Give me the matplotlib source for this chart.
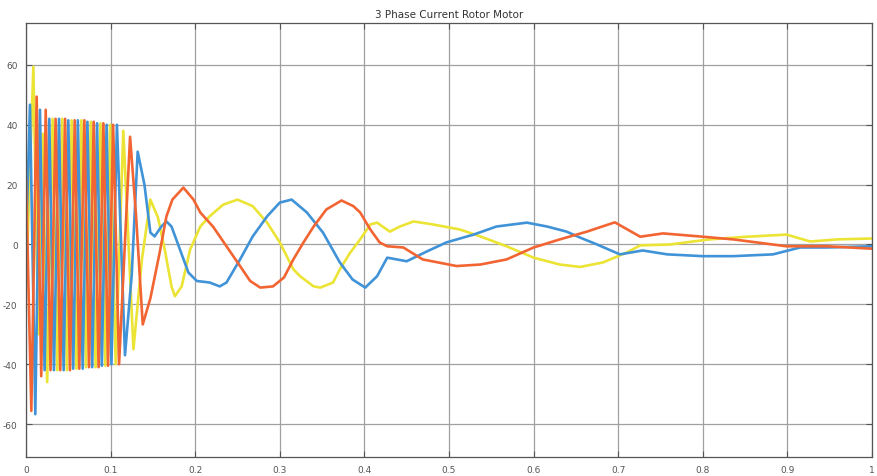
import matplotlib
matplotlib.use("Agg")
from matplotlib import pyplot as plt

plt.rcParams['axes.unicode_minus'] = False

# Rotor phase currents (peaks, troughs and bends)
blue_t = [0.0, 0.0047, 0.0110, 0.0165, 0.0220, 0.0275, 0.0330, 0.0390, 0.0445,
          0.0500, 0.0558, 0.0613, 0.0670, 0.0726, 0.0783, 0.0840, 0.0896, 0.0953,
          0.1010, 0.1075, 0.1170, 0.1250, 0.1320, 0.1400, 0.1470, 0.1520, 0.1600,
          0.1660, 0.1720, 0.1820, 0.1920, 0.2020, 0.2170, 0.2290, 0.2370, 0.2530,
          0.2680, 0.2850, 0.3000, 0.3140, 0.3320, 0.3510, 0.3710, 0.3860, 0.4010,
          0.4150, 0.4270, 0.4500, 0.4740, 0.4970, 0.5290, 0.5560, 0.5920, 0.6160,
          0.6390, 0.6550, 0.6750, 0.7020, 0.7290, 0.7580, 0.8000, 0.8360, 0.8830,
          0.9150, 0.9470, 1.0]
blue_v = [0, 46.7, -56.7, 45, -42, 42, -42, 42, -42,
          41.5, -41.5, 41.5, -41.5, 41, -41, 40.5, -40.5, 40,
          -40, 40, -37, -10, 31, 20, 4, 2.7, 6,
          7.7, 6, -1.7, -9.4, -12.2, -12.7, -14, -12.7, -5,
          2.7, 9.4, 14, 15, 10.7, 4, -6, -11.7, -14.4,
          -10.6, -4.4, -5.6, -2.3, 0.7, 3.3, 6, 7.3, 6,
          4.3, 2.3, 0, -3.3, -2, -3.3, -3.9, -3.9, -3.3,
          -1, -1, -0.6]

yellow_t = [0.0, 0.0087, 0.0145, 0.0197, 0.0250, 0.0315, 0.0370, 0.0428, 0.0484,
            0.0540, 0.0597, 0.0654, 0.0710, 0.0766, 0.0823, 0.0880, 0.0937, 0.0995,
            0.1060, 0.1150, 0.1270, 0.1370, 0.1470, 0.1560, 0.1640, 0.1720, 0.1760,
            0.1840, 0.1940, 0.2060, 0.2170, 0.2330, 0.2500, 0.2680, 0.2850, 0.3000,
            0.3160, 0.3240, 0.3400, 0.3480, 0.3630, 0.3710, 0.3830, 0.3950, 0.4070,
            0.4150, 0.4300, 0.4420, 0.4580, 0.4810, 0.5130, 0.5370, 0.5680, 0.6000,
            0.6310, 0.6550, 0.6820, 0.7100, 0.7260, 0.7610, 0.8080, 0.8520, 0.8990,
            0.9270, 0.9590, 1.0]
yellow_v = [-15, 59.4, -30, 37, -46, 42, -42, 42, -42,
            41.5, -41.5, 41.5, -41, 41, -41, 40.5, -40.5, 40,
            -40, 38, -35, -5, 15, 9, -1.7, -14, -17.3,
            -14, -1.7, 6, 9.4, 13.3, 15, 12.8, 7.3, 0.7,
            -8.3, -10.6, -14, -14.4, -12.7, -8.3, -2.8, 1.7, 6.7,
            7.3, 4.3, 6, 7.7, 6.7, 5, 2.7, -0.6, -4.4,
            -6.7, -7.5, -6, -2.7, -0.3, 0, 1.7, 2.6, 3.3,
            1, 1.7, 2]

orange_t = [0.0, 0.0063, 0.0126, 0.0180, 0.0233, 0.0290, 0.0350, 0.0405, 0.0462,
            0.0520, 0.0576, 0.0630, 0.0690, 0.0745, 0.0800, 0.0858, 0.0915, 0.0970,
            0.1030, 0.1100, 0.1230, 0.1300, 0.1380, 0.1470, 0.1580, 0.1660, 0.1730,
            0.1860, 0.1980, 0.2060, 0.2210, 0.2370, 0.2530, 0.2650, 0.2770, 0.2920,
            0.3050, 0.3160, 0.3280, 0.3400, 0.3550, 0.3730, 0.3870, 0.3950, 0.4070,
            0.4180, 0.4270, 0.4460, 0.4690, 0.5090, 0.5370, 0.5680, 0.6000, 0.6310,
            0.6630, 0.6960, 0.7260, 0.7530, 0.8000, 0.8360, 0.8990, 0.9470, 1.0]
orange_v = [22, -55.6, 49.4, -44, 45, -42, 42, -42, 42,
            -42, 41.5, -41.5, 41.5, -41, 41, -41, 40.5, -40.5,
            40, -40, 36, 10, -26.7, -18, -2.7, 9.4, 15,
            19, 15, 10.7, 6, -0.6, -7.2, -12.2, -14.4, -14,
            -11, -5, 0.7, 6, 11.7, 14.7, 12.8, 10.7, 5,
            0.7, -0.6, -1, -5, -7.2, -6.7, -5, -1, 1.7,
            4.3, 7.4, 2.6, 3.7, 2.6, 1.7, -0.6, -0.6, -1.4]

x_ticks = [0, 0.1, 0.2, 0.3, 0.4, 0.5, 0.6, 0.7, 0.8, 0.9, 1]
x_labels = ["0", "0.1", "0.2", "0.3", "0.4", "0.5", "0.6", "0.7", "0.8", "0.9", "1"]
y_ticks = [-60, -40, -20, 0, 20, 40, 60]

fig = plt.figure(figsize=(8.78, 4.77), dpi=100)
ax = fig.add_axes([26 / 878, 19 / 477, 846 / 878, 434 / 477])

ax.plot(yellow_t, yellow_v, color="#ECE435", lw=1.9)
ax.plot(blue_t, blue_v, color="#4193D8", lw=1.9)
ax.plot(orange_t, orange_v, color="#F26533", lw=1.9)

ax.set_xlim(0, 1)
ax.set_ylim(-71, 74)
ax.set_xticks(x_ticks)
ax.set_xticklabels(x_labels)
ax.set_yticks(y_ticks)
ax.grid(True, color="#a0a0a0", lw=0.9)
ax.set_axisbelow(True)
ax.tick_params(direction="in", top=True, right=True, labelsize=6.5,
               colors="#555555", length=4, pad=6)
for s in ax.spines.values():
    s.set_color("#555555")
    s.set_linewidth(0.9)

ax.set_title("3 Phase Current Rotor Motor", fontsize=7.5, color="#333333", pad=4)

fig.savefig("out.png", dpi=100)
